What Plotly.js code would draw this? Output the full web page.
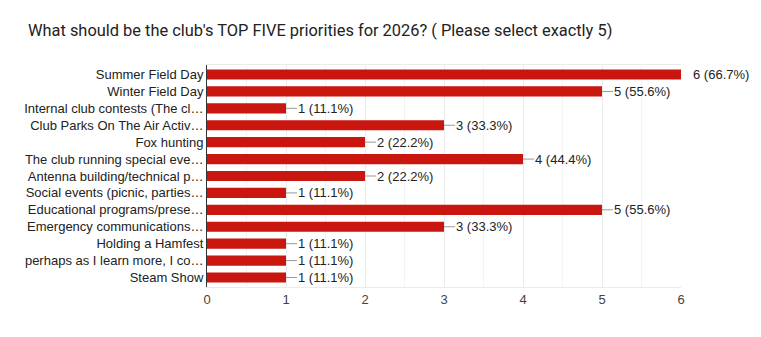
<!DOCTYPE html>
<html><head><meta charset="utf-8">
<script src="https://cdn.plot.ly/plotly-3.0.1.min.js"></script>
<style>body{margin:0;background:#fff}#chart{width:761px;height:337px}</style>
</head><body><div id="chart"></div>
<script>
const categories = [
  "Summer Field Day",
  "Winter Field Day",
  "Internal club contests (The cl…",
  "Club Parks On The Air Activ…",
  "Fox hunting",
  "The club running special eve…",
  "Antenna building/technical p…",
  "Social events (picnic, parties…",
  "Educational programs/prese…",
  "Emergency communications…",
  "Holding a Hamfest",
  "perhaps as I learn more, I co…",
  "Steam Show"
];
const counts = [6, 5, 1, 3, 2, 4, 2, 1, 5, 3, 1, 1, 1];
const percents = ["66.7%", "55.6%", "11.1%", "33.3%", "22.2%", "44.4%", "22.2%", "11.1%", "55.6%", "33.3%", "11.1%", "11.1%", "11.1%"];
const xTicks = [0, 1, 2, 3, 4, 5, 6];

const ARIAL = '"Liberation Sans", Arial, sans-serif';

const trace = {
  type: 'bar', orientation: 'h',
  x: counts, y: categories,
  marker: {color: '#c9160f'},
  width: 0.6,
  hoverinfo: 'none'
};

const annotations = categories.map((c, i) => ({
  x: counts[i], y: c, xref: 'x', yref: 'y',
  text: counts[i] + ' (' + percents[i] + ')',
  showarrow: false, xanchor: 'left', yanchor: 'middle', xshift: 10,
  font: {family: ARIAL, size: 13, color: '#222'}
}));

const shapes = categories.map((c, i) => ({
  type: 'line', xref: 'x', yref: 'y', xsizemode: 'pixel', xanchor: counts[i],
  x0: 0, x1: 11, y0: c, y1: c,
  line: {color: '#999', width: 1}
}));

const layout = {
  width: 761, height: 337,
  margin: {l: 207, r: 80, t: 65, b: 50},
  paper_bgcolor: '#fff', plot_bgcolor: '#fff',
  title: {text: "What should be the club's TOP FIVE priorities for 2026? ( Please select exactly 5)",
    x: 28/761, xanchor: 'left', y: 1 - 30/337, yanchor: 'middle',
    font: {family: 'Roboto, Arial, sans-serif', size: 16.4, color: '#222'}},
  xaxis: {range: [0, 6], tickvals: xTicks, ticktext: xTicks.map(String),
    showgrid: true, gridcolor: '#ebebeb', zeroline: false,
    minor: {dtick: 0.5, showgrid: true, gridcolor: '#f3f3f3'},
    showline: true, linecolor: '#ebebeb', mirror: true,
    ticks: '', fixedrange: true,
    tickfont: {family: ARIAL, size: 13, color: '#444'}},
  yaxis: {autorange: 'reversed', showgrid: false, showline: true, linecolor: '#333', linewidth: 1,
    ticks: '', ticklabelstandoff: 0,
    tickfont: {family: ARIAL, size: 13, color: '#222'}},
  annotations: annotations,
  shapes: shapes,
  showlegend: false,
  bargap: 0.4
};

Plotly.newPlot('chart', [trace], layout, {staticPlot: true, displayModeBar: false});
</script></body></html>
